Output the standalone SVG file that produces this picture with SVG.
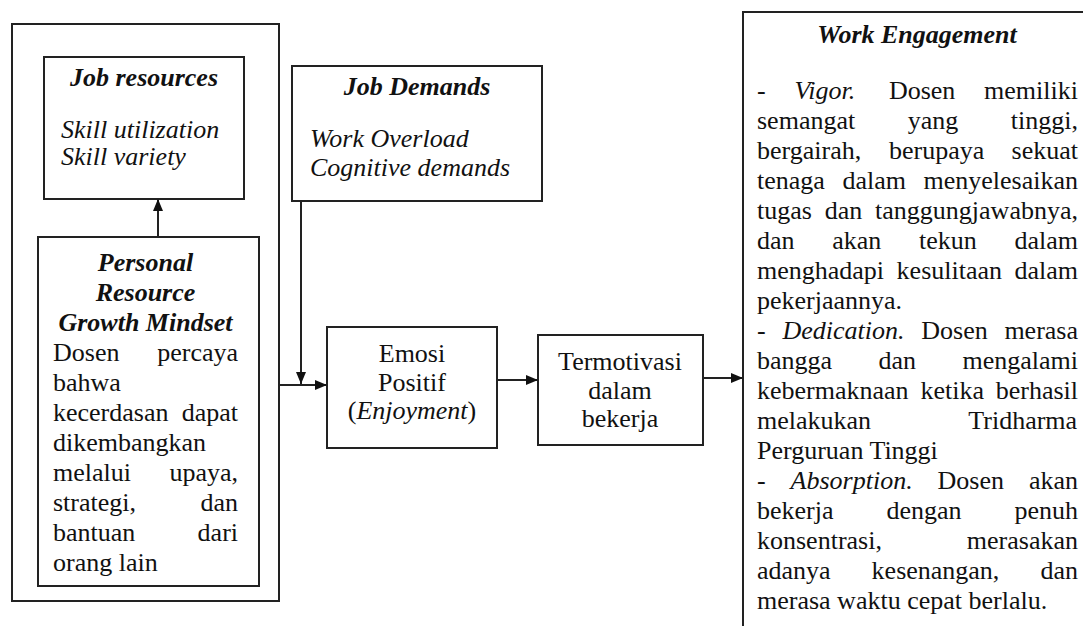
<svg xmlns="http://www.w3.org/2000/svg" width="1083" height="626" viewBox="0 0 1083 626">
<style>
.box{fill:none;stroke:#222;stroke-width:2}
.conn{fill:none;stroke:#222;stroke-width:2}
.t{font-family:"Liberation Serif","Times New Roman",serif;font-size:26px;fill:#111}
.bi{font-weight:bold;font-style:italic}
.i{font-style:italic}
.c{text-anchor:middle}
</style>
<defs>
<marker id="arr" viewBox="0 0 12 10" refX="12" refY="5" markerWidth="12" markerHeight="10" markerUnits="userSpaceOnUse" orient="auto">
<path d="M0,0 L12,5 L0,10 z" fill="#111"/>
</marker>
</defs>
<rect width="1083" height="626" fill="#fff"/>

<g id="outer-left">
<rect class="box" x="12" y="24" width="267" height="577"/>
</g>

<g id="job-resources">
<rect class="box" x="44" y="57" width="200" height="142"/>
<text class="t bi c" x="144" y="86">Job resources</text>
<text class="t i" x="61" y="138">Skill utilization</text>
<text class="t i" x="61" y="165">Skill variety</text>
</g>

<g id="personal-resource">
<rect class="box" x="38" y="237" width="221" height="349"/>
<text class="t bi c" x="145.5" y="271">Personal</text>
<text class="t bi c" x="145.5" y="301">Resource</text>
<text class="t bi c" x="145.5" y="331">Growth Mindset</text>
<text class="t" y="361"><tspan x="53">Dosen</tspan><tspan x="157.2">percaya</tspan></text>
<text class="t" x="53" y="391">bahwa</text>
<text class="t" y="421"><tspan x="53">kecerdasan</tspan><tspan x="181.7">dapat</tspan></text>
<text class="t" x="53" y="451">dikembangkan</text>
<text class="t" y="481"><tspan x="53">melalui</tspan><tspan x="169.4">upaya,</tspan></text>
<text class="t" y="511"><tspan x="53">strategi,</tspan><tspan x="200.5">dan</tspan></text>
<text class="t" y="541"><tspan x="53">bantuan</tspan><tspan x="197.6">dari</tspan></text>
<text class="t" x="53" y="571">orang lain</text>
</g>

<g id="job-demands">
<rect class="box" x="292" y="66" width="250" height="135"/>
<text class="t bi c" x="417" y="95">Job Demands</text>
<text class="t i" x="310" y="147">Work Overload</text>
<text class="t i" x="310" y="176">Cognitive demands</text>
</g>

<g id="emosi-positif">
<rect class="box" x="327" y="327" width="170" height="121"/>
<text class="t c" x="412" y="362">Emosi</text>
<text class="t c" x="412" y="391">Positif</text>
<text class="t c" x="412" y="419">(<tspan class="i">Enjoyment</tspan>)</text>
</g>

<g id="termotivasi">
<rect class="box" x="538" y="335" width="165" height="110"/>
<text class="t c" x="620" y="370">Termotivasi</text>
<text class="t c" x="620" y="399">dalam</text>
<text class="t c" x="620" y="427">bekerja</text>
</g>

<g id="work-engagement">
<path class="box" d="M1083,12 H743 V626"/>
<text class="t bi c" x="917" y="43">Work Engagement</text>
<text class="t" y="99"><tspan x="757">-</tspan><tspan class="i" x="794.4">Vigor.</tspan><tspan x="888.9">Dosen</tspan><tspan x="984.1">memiliki</tspan></text>
<text class="t" y="129"><tspan x="757">semangat</tspan><tspan x="907.7">yang</tspan><tspan x="1010.8">tinggi,</tspan></text>
<text class="t" y="159"><tspan x="757">bergairah,</tspan><tspan x="889">berupaya</tspan><tspan x="1011.6">sekuat</tspan></text>
<text class="t" y="189"><tspan x="757">tenaga</tspan><tspan x="842.5">dalam</tspan><tspan x="923.5">menyelesaikan</tspan></text>
<text class="t" y="219"><tspan x="757">tugas</tspan><tspan x="824.8">dan</tspan><tspan x="875.1">tanggungjawabnya,</tspan></text>
<text class="t" y="249"><tspan x="757">dan</tspan><tspan x="832.2">akan</tspan><tspan x="919">tekun</tspan><tspan x="1014.5">dalam</tspan></text>
<text class="t" y="279"><tspan x="757">menghadapi</tspan><tspan x="896.6">kesulitaan</tspan><tspan x="1014.5">dalam</tspan></text>
<text class="t" x="757" y="309">pekerjaannya.</text>
<text class="t" y="339"><tspan x="757">-</tspan><tspan class="i" x="782.5">Dedication.</tspan><tspan x="921.3">Dosen</tspan><tspan x="1004.4">merasa</tspan></text>
<text class="t" y="369"><tspan x="757">bangga</tspan><tspan x="878.5">dan</tspan><tspan x="962.5">mengalami</tspan></text>
<text class="t" y="399"><tspan x="757">kebermaknaan</tspan><tspan x="920.4">ketika</tspan><tspan x="995.7">berhasil</tspan></text>
<text class="t" y="429"><tspan x="757">melakukan</tspan><tspan x="968.3">Tridharma</tspan></text>
<text class="t" x="757" y="459">Perguruan Tinggi</text>
<text class="t" y="489"><tspan x="757">-</tspan><tspan class="i" x="790.6">Absorption.</tspan><tspan x="937.6">Dosen</tspan><tspan x="1028.9">akan</tspan></text>
<text class="t" y="519"><tspan x="757">bekerja</tspan><tspan x="886.5">dengan</tspan><tspan x="1014.5">penuh</tspan></text>
<text class="t" y="549"><tspan x="757">konsentrasi,</tspan><tspan x="966.8">merasakan</tspan></text>
<text class="t" y="579"><tspan x="757">adanya</tspan><tspan x="871.6">kesenangan,</tspan><tspan x="1040.5">dan</tspan></text>
<text class="t" x="757" y="609">merasa waktu cepat berlalu.</text>
</g>

<g id="connectors">
<line class="conn" x1="158" y1="237" x2="158" y2="199" marker-end="url(#arr)"/>
<line class="conn" x1="301" y1="201" x2="301" y2="384" marker-end="url(#arr)"/>
<line class="conn" x1="279" y1="385" x2="327" y2="385" marker-end="url(#arr)"/>
<line class="conn" x1="497" y1="380" x2="538" y2="380" marker-end="url(#arr)"/>
<line class="conn" x1="703" y1="378" x2="743" y2="378" marker-end="url(#arr)"/>
</g>
</svg>
